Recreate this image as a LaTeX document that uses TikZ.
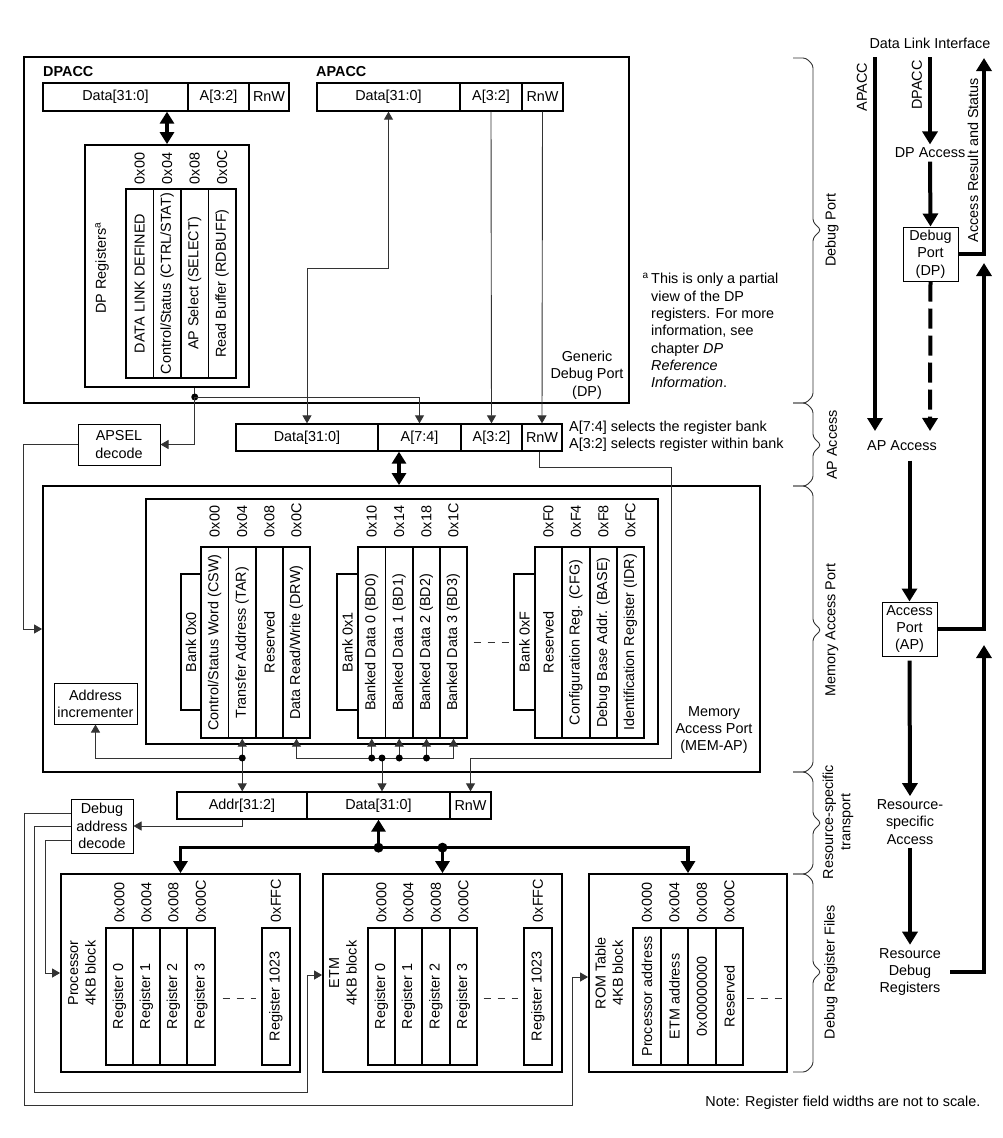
\documentclass[tikz,border=0pt]{standalone}
\usepackage{fontspec}
\setmainfont{Liberation Sans}
\usepackage{graphicx}
\usetikzlibrary{arrows.meta,calc}
\newcommand\regbox[7][]{%
  \pgfmathsetmacro\rbw{#5-#3}%
  \pgfmathsetmacro\rbh{#6-#4}%
  \pgfmathsetmacro\rbx{(#3+#5)/2}%
  \pgfmathsetmacro\rby{(#4+#6)/2}%
  \node[cellsty,#1,minimum width=\rbw pt,minimum height=\rbh pt] (#2) at (\rbx,\rby) {#7};}
\newcommand\vreg[6]{\regbox{#1}{#2}{#3}{#4}{#5}{\rotatebox{90}{#6}}}
\newcommand\offlab[3]{\node[offs] (#1off) at ($(#1.north)+(0,-#2)$) {#3};}
\newcommand\sbrace[3]{\draw[bracesty] (793,#1) -- (806,#1) -- (813,#1+7) -- (813,#3-8) -- (821,#3) -- (813,#3+8) -- (813,#2-7) -- (806,#2) -- (793,#2);}
\tikzset{
  every node/.style={font=\fontsize{14.4}{17.3}\selectfont},
  boldlbl/.style={anchor=west, inner sep=0pt, font=\fontsize{14.4}{17.3}\selectfont\bfseries},
  cellsty/.style={draw, line width=1.3pt, inner sep=0pt},
  bx/.style={draw, line width=1.8pt, inner sep=0pt},
  tbox/.style={draw, line width=1pt, inner sep=0pt, align=center},
  wire/.style={line width=0.9pt, black!80},
  warr/.style={wire, -{Triangle[length=8pt,width=9pt]}},
  wdbl/.style={wire, {Triangle[length=8pt,width=9pt]}-{Triangle[length=8pt,width=9pt]}},
  flow/.style={line width=4pt, -{Triangle[length=13pt,width=15pt]}},
  flowdbl/.style={line width=4pt, {Triangle[length=12pt,width=14pt]}-{Triangle[length=12pt,width=14pt]}},
  bus/.style={line width=3.5pt},
  busarr/.style={bus, -{Triangle[length=12pt,width=14pt]}},
  offs/.style={rotate=90, anchor=west, inner sep=0pt},
  bracesty/.style={line width=0.9pt, black!80, rounded corners=3pt},
  dashsty/.style={wire, dash pattern=on 7pt off 7pt},
}
\begin{document}
\begin{tikzpicture}[x=1pt,y=-1pt]
\useasboundingbox (0,0) rectangle (1003,1138);

% ================= Debug Port block =================
\regbox[bx]{dp}{24}{57}{629}{403}{}
\node[boldlbl] (dpacclbl) at (43,72) {DPACC};
\regbox{dpd}{43}{83}{188}{111}{Data[31:0]}
\regbox{dpa}{188}{83}{249}{111}{A[3:2]}
\regbox{dpr}{249}{83}{289}{111}{RnW}
\node[boldlbl] (apacclbl) at (316,72) {APACC};
\regbox{apd}{317}{83}{460}{111}{Data[31:0]}
\regbox{apa}{460}{83}{522}{111}{A[3:2]}
\regbox{apr}{522}{83}{563}{111}{RnW}

\regbox[bx]{dpregs}{85}{145}{249}{387}{}
\node[rotate=90] (dpregslbl) at (102,268) {DP Registers\textsuperscript{a}};
\vreg{dpdl}{126}{189}{153.5}{378}{DATA LINK DEFINED}
\vreg{dpcs}{153.5}{189}{181}{378}{Control/Status (CTRL/STAT)}
\vreg{dpsel}{181}{189}{208.5}{378}{AP Select (SELECT)}
\vreg{dprb}{208.5}{189}{236}{378}{Read Buffer (RDBUFF)}
\offlab{dpdl}{4}{0x00}
\offlab{dpcs}{4}{0x04}
\offlab{dpsel}{4}{0x08}
\offlab{dprb}{4}{0x0C}
\draw[flowdbl] (dpregs.north) -- (dpregs.north |- dpd.south);

\node[align=center] (gdp) at (587,375) {Generic\\Debug Port\\(DP)};
\node[anchor=north west, align=left, inner sep=0pt] (fn) at (651,273) {\llap{\textsuperscript{a}\,}This is only a partial\\view of the DP\\registers. For more\\information, see\\chapter \textit{DP}\\\textit{Reference}\\\textit{Information}.};

% ================= AP access bar =================
\regbox{mapd}{236}{424}{378}{451}{Data[31:0]}
\regbox{map74}{378}{424}{461}{451}{A[7:4]}
\regbox{map32}{461}{424}{522}{451}{A[3:2]}
\regbox{maprnw}{522}{424}{562}{451}{RnW}
\node[anchor=north west, align=left, inner sep=0pt] (selnote) at (569,421) {A[7:4] selects the register bank\\A[3:2] selects register within bank};
\regbox[tbox]{apseldec}{78}{424}{160}{465}{APSEL\\decode}

\coordinate (j1) at (dpsel.center |- 0,397);
\draw[wire] (dpregs.south -| dpsel) -- (j1);
\fill (j1) circle[radius=3.5pt];
\draw[warr] (j1) |- (apseldec.east);
\draw[warr] (j1) -| (map74.north);
\draw[wdbl] (apd.south) -- ++(0,157) -| (mapd.north);
\draw[warr] (apa.south) -- (map32.north);
\draw[warr] (apr.south) -- (maprnw.north);

% ================= MEM-AP =================
\regbox[bx]{memap}{43}{486}{760}{772}{}
\regbox[bx]{memin}{146}{499}{658}{744}{}
\draw[flowdbl] ($(map74.south)+(-20.5,0)$) coordinate (dblA) -- (dblA |- memap.north);
\draw[warr] (apseldec.west) -- ++(-54,0) |- (memap.west);

\vreg{bank0}{181}{574}{201}{710}{Bank 0x0}
\vreg{csw}{201}{547}{228.5}{738}{Control/Status Word (CSW)}
\vreg{tar}{228.5}{547}{256}{738}{Transfer Address (TAR)}
\vreg{resa}{256}{547}{283}{738}{Reserved}
\vreg{drw}{283}{547}{310}{738}{Data Read/Write (DRW)}
\offlab{csw}{9}{0x00}
\offlab{tar}{9}{0x04}
\offlab{resa}{9}{0x08}
\offlab{drw}{9}{0x0C}

\vreg{bank1}{337}{574}{358}{710}{Bank 0x1}
\vreg{bd0}{358}{547}{385.5}{738}{Banked Data 0 (BD0)}
\vreg{bd1}{385.5}{547}{413}{738}{Banked Data 1 (BD1)}
\vreg{bd2}{413}{547}{440}{738}{Banked Data 2 (BD2)}
\vreg{bd3}{440}{547}{467}{738}{Banked Data 3 (BD3)}
\offlab{bd0}{9}{0x10}
\offlab{bd1}{9}{0x14}
\offlab{bd2}{9}{0x18}
\offlab{bd3}{9}{0x1C}
\draw[dashsty] ($(bd3.east)+(6,0)$) -- ($(bd3.east)+(41,0)$);

\vreg{bankf}{514}{574}{535}{710}{Bank 0xF}
\vreg{resb}{535}{547}{562}{738}{Reserved}
\vreg{cfg}{562}{547}{590}{738}{Configuration Reg. (CFG)}
\vreg{base}{590}{547}{617}{738}{Debug Base Addr. (BASE)}
\vreg{idr}{617}{547}{644}{738}{Identification Register (IDR)}
\offlab{resb}{9}{0xF0}
\offlab{cfg}{9}{0xF4}
\offlab{base}{9}{0xF8}
\offlab{idr}{9}{0xFC}

\node[align=center] (memaplbl) at (714,730) {Memory\\Access Port\\(MEM-AP)};
\regbox[tbox]{addrinc}{54}{683}{137}{724}{Address\\incrementer}

% ================= Resource-specific transport bar =================
\regbox{raddr}{177}{792}{307}{819}{Addr[31:2]}
\regbox{rdata}{307}{792}{450}{819}{Data[31:0]}
\regbox{rrnw}{450}{792}{491}{819}{RnW}
\regbox[tbox]{dad}{71}{799}{133}{853}{Debug\\address\\decode}

\draw[warr] ($(maprnw.south)+(-3,0)$) -- ++(0,16) -| (671,758) -| (rrnw.north);

\coordinate (j2) at (tar.south |- 0,758);
\draw[warr] (j2) -- (tar.south);
\draw[warr] (j2) -| (addrinc.south);
\draw[warr] (j2) -- (j2 |- raddr.north);
\fill (j2) circle[radius=3.5pt];

\draw[warr] (bd3.south |- j2) -| (drw.south);
\draw[warr] (bd3.south |- j2) -- (bd3.south);
\draw[warr] (bd0.south |- j2) -- (bd0.south);
\draw[warr] (bd1.south |- j2) -- (bd1.south);
\draw[warr] (bd2.south |- j2) -- (bd2.south);
\coordinate (jdat) at (382,758);
\draw[warr] (jdat) -- (jdat |- rdata.north);
\fill (bd0.south |- j2) circle[radius=3.5pt];
\fill (jdat) circle[radius=3.5pt];
\fill (bd1.south |- j2) circle[radius=3.5pt];
\fill (bd2.south |- j2) circle[radius=3.5pt];

\draw[warr] (raddr.south) |- (dad.east);

% ================= Debug register files =================
\regbox[bx]{proc}{61}{874}{300}{1072}{}
\node[rotate=90, align=center] (proclbl) at (82,973) {Processor\\4KB block};
\vreg{pr0}{106}{928}{133}{1065}{Register 0}
\vreg{pr1}{133}{928}{160}{1065}{Register 1}
\vreg{pr2}{160}{928}{187}{1065}{Register 2}
\vreg{pr3}{187}{928}{215}{1065}{Register 3}
\vreg{prl}{262}{928}{290}{1065}{Register 1023}
\offlab{pr0}{5}{0x000}
\offlab{pr1}{5}{0x004}
\offlab{pr2}{5}{0x008}
\offlab{pr3}{5}{0x00C}
\offlab{prl}{5}{0xFFC}
\draw[dashsty] ($(pr3.east)+(7,1.5)$) -- ($(prl.west)+(-5,1.5)$);

\regbox[bx]{etm}{323}{874}{562}{1072}{}
\node[rotate=90, align=center] (etmlbl) at (343,973) {ETM\\4KB block};
\vreg{et0}{368}{928}{395}{1065}{Register 0}
\vreg{et1}{395}{928}{422}{1065}{Register 1}
\vreg{et2}{422}{928}{450}{1065}{Register 2}
\vreg{et3}{450}{928}{477}{1065}{Register 3}
\vreg{etl}{524}{928}{552}{1065}{Register 1023}
\offlab{et0}{5}{0x000}
\offlab{et1}{5}{0x004}
\offlab{et2}{5}{0x008}
\offlab{et3}{5}{0x00C}
\offlab{etl}{5}{0xFFC}
\draw[dashsty] ($(et3.east)+(6,1.5)$) -- ($(etl.west)+(-5,1.5)$);

\regbox[bx]{rom}{589}{874}{787}{1072}{}
\node[rotate=90, align=center] (romlbl) at (609,973) {ROM Table\\4KB block};
\vreg{ro0}{633}{928}{661}{1065}{Processor address}
\vreg{ro1}{661}{928}{688}{1065}{ETM address}
\vreg{ro2}{688}{928}{716}{1065}{0x00000000}
\vreg{ro3}{716}{928}{743}{1065}{Reserved}
\offlab{ro0}{5}{0x000}
\offlab{ro1}{5}{0x004}
\offlab{ro2}{5}{0x008}
\offlab{ro3}{5}{0x00C}
\draw[dashsty] ($(ro3.east)+(3,1.5)$) -- ($(ro3.east)+(38,1.5)$);

% bus
\coordinate (bj1) at ($(rdata.south)+(0,28)$);
\coordinate (bj2) at (bj1 -| etm.north);
\draw[bus, -{Triangle[length=12pt,width=14pt]}] (bj1) -- (rdata.south);
\draw[busarr] (bj1) -| (proc.north);
\draw[busarr] (bj1) -| (rom.north);
\draw[busarr] (bj2) -- (etm.north);
\fill (bj1) circle[radius=5pt];
\fill (bj2) circle[radius=5pt];

% decode lines
\draw[warr] ($(dad.west)+(0,-13)$) -| (24,1105) -| (572,977) -- ($(rom.west)+(0,4)$);
\draw[warr] (dad.west) -| (34,1092) -| (307,975) -- ($(etm.west)+(0,2)$);
\draw[warr] ($(dad.west)+(0,14)$) -| (45,973) -- (proc.west);

\node[anchor=east] (note) at (984,1103) {Note: Register field widths are not to scale.};

% ================= Braces =================
\sbrace{58}{403}{230}
\sbrace{403}{486}{445}
\sbrace{486}{772}{630}
\sbrace{772}{874}{823}
\sbrace{874}{1072}{972}
\node[rotate=90] (bl1) at (832,230) {Debug Port};
\node[rotate=90] (bl2) at (832,445) {AP Access};
\node[rotate=90] (bl3) at (832,630) {Memory Access Port};
\node[rotate=90, align=center] (bl4) at (838,822) {Resource-specific\\transport};
\node[rotate=90] (bl5) at (831,972) {Debug Register Files};

% ================= Right flow =================
\node (dli) at (930,43) {Data Link Interface};
\node (dpaccess) at (930,153) {DP Access};
\regbox[tbox]{dpbox}{903}{227}{958}{281}{Debug\\Port\\(DP)}
\node (apaccess) at (902,446) {AP Access};
\regbox[tbox]{apbox}{882}{602}{937}{656}{Access\\Port\\(AP)}
\node[align=center] (rsa) at (910,822) {Resource-\\specific\\Access};
\node[align=center] (rdr) at (910,972) {Resource\\Debug\\Registers};

\coordinate (apaccTop) at (875,57);
\coordinate (apaccEnd) at (875,431);
\draw[flow] (apaccTop) -- (apaccEnd);
\node[rotate=90] (apacclab) at (862,87) {APACC};
\coordinate (dpaccTop) at (930,57);
\draw[flow] (dpaccTop) -- (dpaccess.north);
\node[rotate=90] (dpacclab) at (917,85) {DPACC};
\draw[flow] (dpaccess.south) -- (dpbox.north);
\coordinate (dashEnd) at (930,431);
\draw[flow, dash pattern=on 20pt off 7pt] (dpbox.south) -- (dashEnd);
\coordinate (arsTop) at (984,58);
\draw[flow] (dpbox.east) -| (arsTop);
\node[rotate=90] (arslab) at (973,160) {Access Result and Status};

\draw[flow] ($(apaccess.south -| apbox.north)+(0,6)$) -- (apbox.north);
\coordinate (apRetTop) at (984,263);
\draw[flow] (apbox.east) -| (apRetTop);
\draw[flow] ($(apbox.south)+(0,4)$) -- (rsa.north);
\draw[flow] (rsa.south) -- (rdr.north);
\coordinate (rdrTop) at (984,645);
\draw[flow] ($(rdr.east)+(6,0)$) -| (rdrTop);

\end{tikzpicture}
\end{document}
